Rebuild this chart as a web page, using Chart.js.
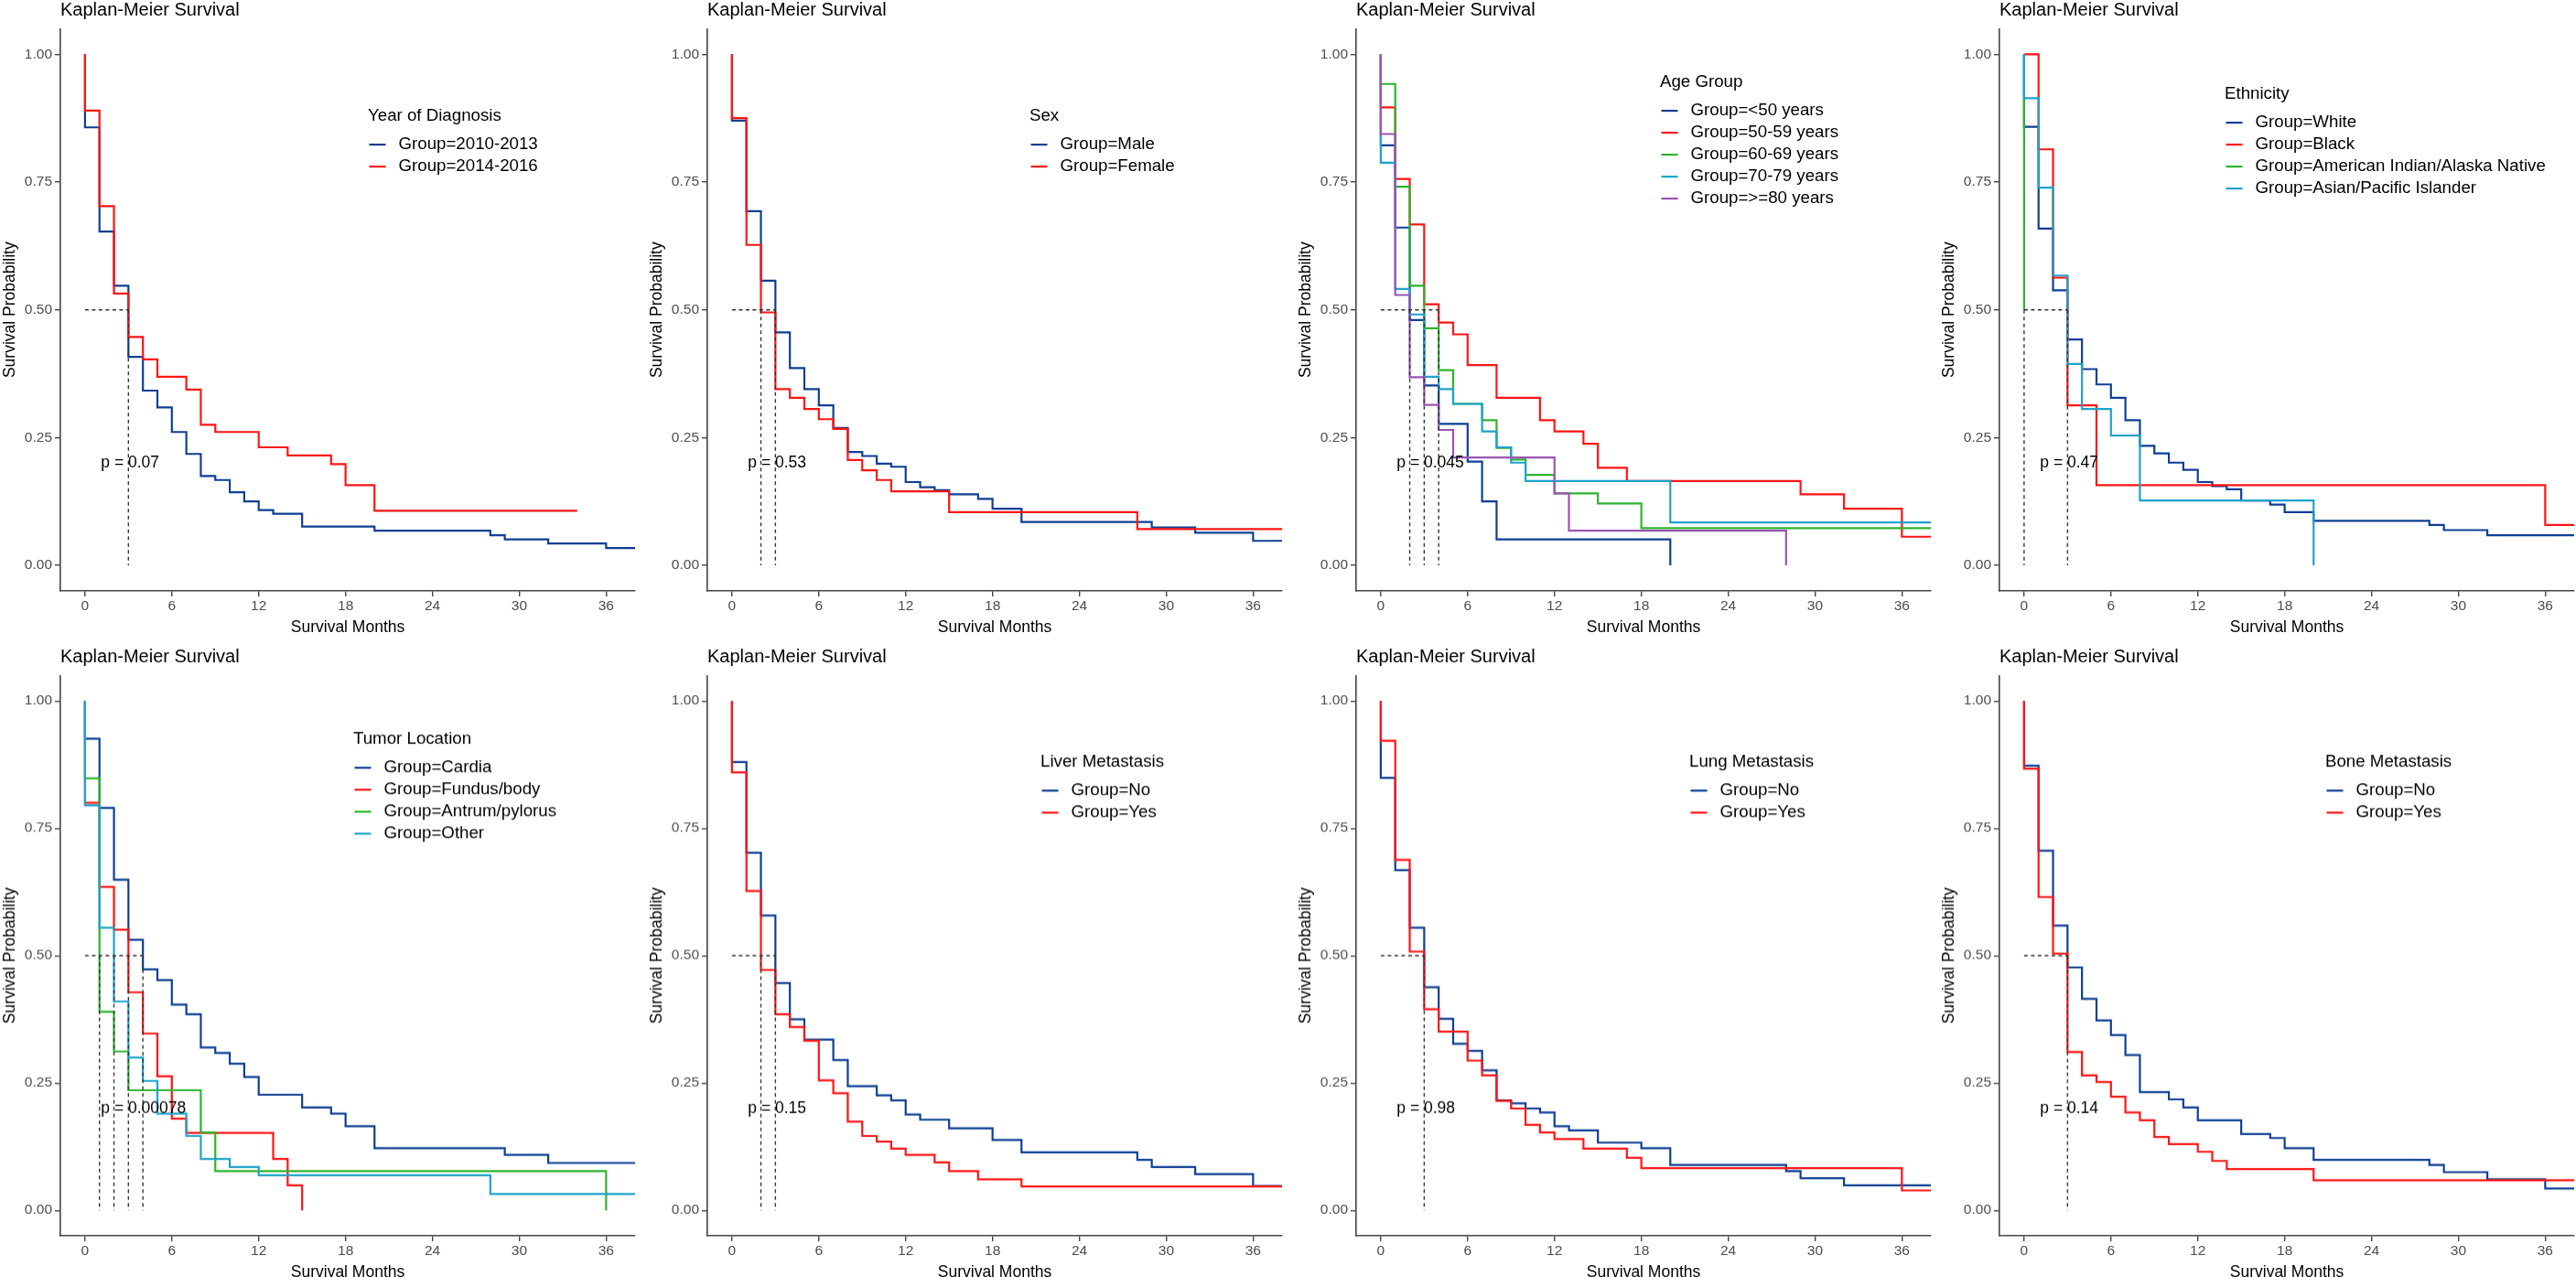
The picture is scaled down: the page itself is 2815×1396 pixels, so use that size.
<!DOCTYPE html>
<html>
<head>
<meta charset="utf-8">
<title>Kaplan-Meier Survival</title>
<script src="https://cdn.jsdelivr.net/npm/chart.js@4.4.1/dist/chart.umd.min.js"></script>
<style>
  html, body { margin: 0; padding: 0; background: #fff; overflow: hidden; }
  body { width: 2815px; height: 1396px; position: relative; }
  .panel { position: absolute; }
</style>
</head>
<body>
<script>
// axis ticks
var xTicks = [0, 6, 12, 18, 24, 30, 36];
var yTicks = [0, 0.25, 0.5, 0.75, 1];
var yTickLabels = ['0.00', '0.25', '0.50', '0.75', '1.00'];

// Year of Diagnosis
var yearGroups = ['Group=2010-2013', 'Group=2014-2016'];
var year2010T = [0, 0, 1, 2, 3, 4, 5, 6, 7, 8, 9, 10, 11, 12, 13, 15, 20, 28, 29, 32, 36, 38];
var year2010S = [1, 0.857, 0.653, 0.547, 0.408, 0.342, 0.309, 0.261, 0.218, 0.175, 0.167, 0.143, 0.125, 0.108, 0.101, 0.076, 0.068, 0.059, 0.051, 0.043, 0.034, 0.034];
var year2014T = [0, 0, 1, 2, 3, 4, 5, 7, 8, 9, 12, 14, 17, 18, 20, 34];
var year2014S = [1, 0.89, 0.703, 0.532, 0.447, 0.403, 0.369, 0.344, 0.275, 0.261, 0.231, 0.215, 0.198, 0.157, 0.107, 0.107];
var yearMedians = [3];

// Sex
var sexGroups = ['Group=Male', 'Group=Female'];
var sexMaleT = [0, 0, 1, 2, 3, 4, 5, 6, 7, 8, 9, 10, 11, 12, 13, 14, 15, 17, 18, 20, 29, 32, 36, 38];
var sexMaleS = [1, 0.87, 0.693, 0.557, 0.456, 0.386, 0.345, 0.313, 0.269, 0.222, 0.214, 0.199, 0.193, 0.163, 0.153, 0.147, 0.139, 0.130, 0.111, 0.085, 0.074, 0.064, 0.048, 0.048];
var sexFemaleT = [0, 0, 1, 2, 3, 4, 5, 6, 7, 8, 9, 10, 11, 15, 28, 38];
var sexFemaleS = [1, 0.875, 0.627, 0.495, 0.345, 0.328, 0.306, 0.286, 0.267, 0.206, 0.186, 0.167, 0.145, 0.104, 0.071, 0.071];
var sexMedians = [2, 3];

// Age Group
var ageGroups = ['Group=<50 years', 'Group=50-59 years', 'Group=60-69 years', 'Group=70-79 years', 'Group=>=80 years'];
var age50T = [0, 0, 1, 2, 3, 4, 6, 7, 8, 20];
var age50S = [1, 0.822, 0.661, 0.480, 0.352, 0.277, 0.203, 0.125, 0.051, 0];
var age5059T = [0, 0, 1, 2, 3, 4, 5, 6, 8, 11, 12, 14, 15, 17, 29, 32, 36, 38];
var age5059S = [1, 0.896, 0.756, 0.667, 0.511, 0.475, 0.452, 0.392, 0.328, 0.284, 0.262, 0.238, 0.191, 0.165, 0.139, 0.111, 0.056, 0.056];
var age6069T = [0, 0, 1, 2, 3, 4, 5, 7, 8, 9, 10, 12, 15, 18, 38];
var age6069S = [1, 0.942, 0.741, 0.547, 0.464, 0.382, 0.316, 0.284, 0.230, 0.207, 0.177, 0.141, 0.121, 0.073, 0.073];
var age7079T = [0, 0, 1, 2, 3, 4, 5, 7, 8, 9, 10, 20, 38];
var age7079S = [1, 0.788, 0.541, 0.491, 0.369, 0.345, 0.316, 0.262, 0.231, 0.201, 0.165, 0.084, 0.084];
var age80T = [0, 0, 1, 2, 3, 4, 5, 12, 13, 28];
var age80S = [1, 0.844, 0.529, 0.368, 0.314, 0.265, 0.211, 0.141, 0.068, 0];
var ageMedians = [2, 3, 4];

// Ethnicity
var ethGroups = ['Group=White', 'Group=Black', 'Group=American Indian/Alaska Native', 'Group=Asian/Pacific Islander'];
var ethWhiteT = [0, 0, 1, 2, 3, 4, 5, 6, 7, 8, 9, 10, 11, 12, 13, 14, 15, 17, 18, 20, 28, 29, 32, 38];
var ethWhiteS = [1, 0.858, 0.659, 0.538, 0.442, 0.384, 0.354, 0.328, 0.284, 0.234, 0.219, 0.201, 0.187, 0.163, 0.155, 0.149, 0.127, 0.119, 0.104, 0.087, 0.079, 0.069, 0.059, 0.059];
var ethBlackT = [0, 1, 2, 3, 5, 36, 38];
var ethBlackS = [1, 0.814, 0.563, 0.313, 0.157, 0.079, 0.079];
var ethNativeT = [0, 0];
var ethNativeS = [1, 0.5];
var ethAsianT = [0, 0, 1, 2, 3, 4, 6, 8, 20];
var ethAsianS = [1, 0.914, 0.739, 0.567, 0.394, 0.306, 0.254, 0.127, 0];
var ethMedians = [0, 3];

// Tumor Location
var tumGroups = ['Group=Cardia', 'Group=Fundus/body', 'Group=Antrum/pylorus', 'Group=Other'];
var tumCardiaT = [0, 0, 1, 2, 3, 4, 5, 6, 7, 8, 9, 10, 11, 12, 15, 17, 18, 20, 29, 32, 38];
var tumCardiaS = [1, 0.926, 0.790, 0.649, 0.531, 0.473, 0.452, 0.404, 0.385, 0.320, 0.309, 0.288, 0.262, 0.227, 0.202, 0.190, 0.165, 0.122, 0.109, 0.093, 0.093];
var tumFundusT = [0, 0, 1, 2, 3, 4, 5, 6, 7, 13, 14, 15];
var tumFundusS = [1, 0.80, 0.635, 0.551, 0.428, 0.347, 0.263, 0.18, 0.152, 0.101, 0.049, 0];
var tumAntrumT = [0, 0, 1, 2, 3, 8, 9, 36];
var tumAntrumS = [1, 0.848, 0.39, 0.312, 0.236, 0.153, 0.077, 0];
var tumOtherT = [0, 0, 1, 2, 3, 4, 5, 7, 8, 10, 12, 28, 38];
var tumOtherS = [1, 0.795, 0.555, 0.41, 0.30, 0.254, 0.19, 0.146, 0.101, 0.085, 0.069, 0.032, 0.032];
var tumMedians = [1, 2, 3, 4];

// Liver / Lung / Bone Metastasis
var ynGroups = ['Group=No', 'Group=Yes'];
var livNoT = [0, 0, 1, 2, 3, 4, 5, 7, 8, 10, 11, 12, 13, 15, 18, 20, 28, 29, 32, 36, 38];
var livNoS = [1, 0.880, 0.702, 0.579, 0.446, 0.375, 0.335, 0.295, 0.244, 0.226, 0.216, 0.188, 0.178, 0.161, 0.138, 0.114, 0.099, 0.085, 0.071, 0.048, 0.048];
var livYesT = [0, 0, 1, 2, 3, 4, 5, 6, 7, 8, 9, 10, 11, 12, 14, 15, 17, 20, 38];
var livYesS = [1, 0.860, 0.627, 0.472, 0.385, 0.360, 0.333, 0.255, 0.230, 0.174, 0.146, 0.135, 0.121, 0.109, 0.094, 0.077, 0.061, 0.047, 0.047];
var livMedians = [2, 3];

var lungNoT = [0, 0, 1, 2, 3, 4, 5, 6, 7, 8, 9, 10, 11, 12, 13, 15, 18, 20, 28, 29, 32, 38];
var lungNoS = [1, 0.849, 0.668, 0.555, 0.438, 0.376, 0.327, 0.313, 0.275, 0.216, 0.210, 0.200, 0.192, 0.165, 0.157, 0.133, 0.122, 0.089, 0.077, 0.063, 0.049, 0.049];
var lungYesT = [0, 0, 1, 2, 3, 4, 6, 7, 8, 9, 10, 11, 12, 14, 17, 18, 36, 38];
var lungYesS = [1, 0.922, 0.688, 0.508, 0.395, 0.351, 0.294, 0.265, 0.215, 0.200, 0.168, 0.153, 0.140, 0.121, 0.103, 0.083, 0.039, 0.039];
var lungMedians = [3];

var boneNoT = [0, 0, 1, 2, 3, 4, 5, 6, 7, 8, 10, 11, 12, 15, 17, 18, 20, 28, 29, 32, 36, 38];
var boneNoS = [1, 0.873, 0.706, 0.559, 0.477, 0.415, 0.373, 0.344, 0.305, 0.232, 0.218, 0.202, 0.177, 0.150, 0.142, 0.122, 0.099, 0.089, 0.075, 0.061, 0.043, 0.043];
var boneYesT = [0, 0, 1, 2, 3, 4, 5, 6, 7, 8, 9, 10, 12, 13, 14, 20, 38];
var boneYesS = [1, 0.867, 0.615, 0.504, 0.311, 0.265, 0.252, 0.223, 0.192, 0.177, 0.144, 0.130, 0.115, 0.097, 0.081, 0.059, 0.059];
var boneMedians = [3];

var pValues = ['p = 0.07', 'p = 0.53', 'p = 0.045', 'p = 0.47', 'p = 0.00078', 'p = 0.15', 'p = 0.98', 'p = 0.14'];
var pValueAt = [1.1, 0.2];

var BLUE = '#0e3f93', RED = '#ff1414', GREEN = '#2db42d', CYAN = '#1ea3c9', PURPLE = '#9b55b3';
var FONT = '"Liberation Sans", Arial, Helvetica, sans-serif';

var panels = [
  { legend: 'Year of Diagnosis', names: yearGroups, medians: yearMedians, legendAt: [336, 95],
    series: [[year2010T, year2010S, BLUE], [year2014T, year2014S, RED]] },
  { legend: 'Sex', names: sexGroups, medians: sexMedians, legendAt: [352, 95],
    series: [[sexMaleT, sexMaleS, BLUE], [sexFemaleT, sexFemaleS, RED]] },
  { legend: 'Age Group', names: ageGroups, medians: ageMedians, legendAt: [332, 58],
    series: [[age50T, age50S, BLUE], [age5059T, age5059S, RED], [age6069T, age6069S, GREEN],
             [age7079T, age7079S, CYAN], [age80T, age80S, PURPLE]] },
  { legend: 'Ethnicity', names: ethGroups, medians: ethMedians, legendAt: [246, 71],
    series: [[ethWhiteT, ethWhiteS, BLUE], [ethBlackT, ethBlackS, RED], [ethNativeT, ethNativeS, GREEN],
             [ethAsianT, ethAsianS, CYAN]] },
  { legend: 'Tumor Location', names: tumGroups, medians: tumMedians, legendAt: [320, 69],
    series: [[tumCardiaT, tumCardiaS, BLUE], [tumFundusT, tumFundusS, RED], [tumAntrumT, tumAntrumS, GREEN],
             [tumOtherT, tumOtherS, CYAN]] },
  { legend: 'Liver Metastasis', names: ynGroups, medians: livMedians, legendAt: [364, 94],
    series: [[livNoT, livNoS, BLUE], [livYesT, livYesS, RED]] },
  { legend: 'Lung Metastasis', names: ynGroups, medians: lungMedians, legendAt: [364, 94],
    series: [[lungNoT, lungNoS, BLUE], [lungYesT, lungYesS, RED]] },
  { legend: 'Bone Metastasis', names: ynGroups, medians: boneMedians, legendAt: [356, 94],
    series: [[boneNoT, boneNoS, BLUE], [boneYesT, boneYesS, RED]] }
];

// page layout (pixels)
var plotLefts = [66.4, 773, 1482, 2185];
var rowTops = [0, 707.4];
var plotHeights = [614.6, 612];
var Y_AXIS_W = 66, X_AXIS_H = 52, PAD_TOP = 31.4, PLOT_W = 628;

Chart.defaults.font.family = FONT;

// title, p value and legend drawn on top of each panel
var kmDecor = {
  id: 'kmDecor',
  afterDraw: function(chart, args, opts) {
    var ctx = chart.ctx, area = chart.chartArea;
    ctx.save();
    ctx.fillStyle = '#000';
    ctx.textAlign = 'left';
    ctx.textBaseline = 'middle';

    ctx.font = '20px ' + FONT;
    ctx.fillText('Kaplan-Meier Survival', area.left, area.top - 20.3);

    ctx.font = '17.5px ' + FONT;
    ctx.fillText(opts.pText, chart.scales.x.getPixelForValue(pValueAt[0]),
      chart.scales.y.getPixelForValue(pValueAt[1]));

    var lx = area.left + opts.legendAt[0], ly = area.top + opts.legendAt[1];
    ctx.font = '18.7px ' + FONT;
    ctx.fillText(opts.legendTitle, lx, ly);
    var row = 0;
    chart.data.datasets.forEach(function(ds) {
      if (ds.isMedian) return;
      var y = ly + 31.7 + row * 24;
      ctx.strokeStyle = ds.borderColor;
      ctx.lineWidth = 2.2;
      ctx.beginPath();
      ctx.moveTo(lx + 1.5, y);
      ctx.lineTo(lx + 19.5, y);
      ctx.stroke();
      ctx.fillText(ds.label, lx + 33.5, y);
      row++;
    });
    ctx.restore();
  }
};

function toPoints(T, S) {
  var pts = [];
  for (var i = 0; i < T.length; i++) pts.push({ x: T[i], y: S[i] });
  return pts;
}

function medianPoints(meds) {
  var last = Math.max.apply(null, meds);
  var pts = [{ x: 0, y: 0.5 }, { x: last, y: 0.5 }, { x: last, y: null }];
  meds.forEach(function(m) {
    pts.push({ x: m, y: 0.5 }, { x: m, y: 0 }, { x: m, y: null });
  });
  return pts;
}

var axisLine = { display: true, color: '#444', width: 1.6 };
var tickMarks = { display: true, drawOnChartArea: false, drawTicks: true, tickLength: 6, color: '#444', lineWidth: 1.4 };

panels.forEach(function(p, idx) {
  var col = idx % 4, row = Math.floor(idx / 4);
  var w = Y_AXIS_W + PLOT_W + 6;
  var h = PAD_TOP + plotHeights[row] + X_AXIS_H;

  var div = document.createElement('div');
  div.className = 'panel';
  div.style.left = (plotLefts[col] - Y_AXIS_W) + 'px';
  div.style.top = rowTops[row] + 'px';
  div.style.width = w + 'px';
  div.style.height = h + 'px';
  var canvas = document.createElement('canvas');
  canvas.style.width = w + 'px';
  canvas.style.height = h + 'px';
  canvas.width = w;
  canvas.height = h;
  div.appendChild(canvas);
  document.body.appendChild(div);

  var n = p.series.length;
  var datasets = p.series.map(function(s, k) {
    return {
      label: p.names[k],
      data: toPoints(s[0], s[1]),
      borderColor: s[2],
      borderWidth: 2.2,
      stepped: 'before',
      pointRadius: 0,
      fill: false,
      order: n - k
    };
  });
  datasets.push({
    label: '',
    isMedian: true,
    data: medianPoints(p.medians),
    borderColor: '#333',
    borderWidth: 1.4,
    borderDash: [4, 3.5],
    pointRadius: 0,
    spanGaps: false,
    fill: false,
    order: 0
  });

  new Chart(canvas.getContext('2d'), {
    type: 'line',
    data: { datasets: datasets },
    options: {
      responsive: false,
      animation: false,
      layout: { padding: { left: 0, right: 6, top: PAD_TOP, bottom: 0 } },
      plugins: {
        legend: { display: false },
        tooltip: { enabled: false },
        kmDecor: { pText: pValues[idx], legendTitle: p.legend, legendAt: p.legendAt }
      },
      scales: {
        x: {
          type: 'linear', min: -1.7, max: 38,
          afterBuildTicks: function(s) { s.ticks = xTicks.map(function(v) { return { value: v }; }); },
          afterFit: function(s) { s.height = X_AXIS_H; },
          ticks: { autoSkip: false, maxRotation: 0, padding: 1.7, color: '#4d4d4d', font: { size: 15.5 },
                   callback: function(v, i) { return String(xTicks[i]); } },
          grid: tickMarks,
          border: axisLine,
          title: { display: true, text: 'Survival Months', color: '#000', font: { size: 17.5 },
                   padding: { top: 0, bottom: 1.5 } }
        },
        y: {
          type: 'linear', min: -0.05, max: 1.05,
          afterBuildTicks: function(s) { s.ticks = yTicks.map(function(v) { return { value: v }; }); },
          afterFit: function(s) { s.width = Y_AXIS_W; },
          ticks: { padding: 3, color: '#4d4d4d', font: { size: 15.5 },
                   callback: function(v, i) { return yTickLabels[i]; } },
          grid: tickMarks,
          border: axisLine,
          title: { display: true, text: 'Survival Probability', color: '#000', font: { size: 17.5 },
                   padding: { top: 0.5, bottom: 0 } }
        }
      }
    },
    plugins: [kmDecor]
  });
});
</script>
</body>
</html>
